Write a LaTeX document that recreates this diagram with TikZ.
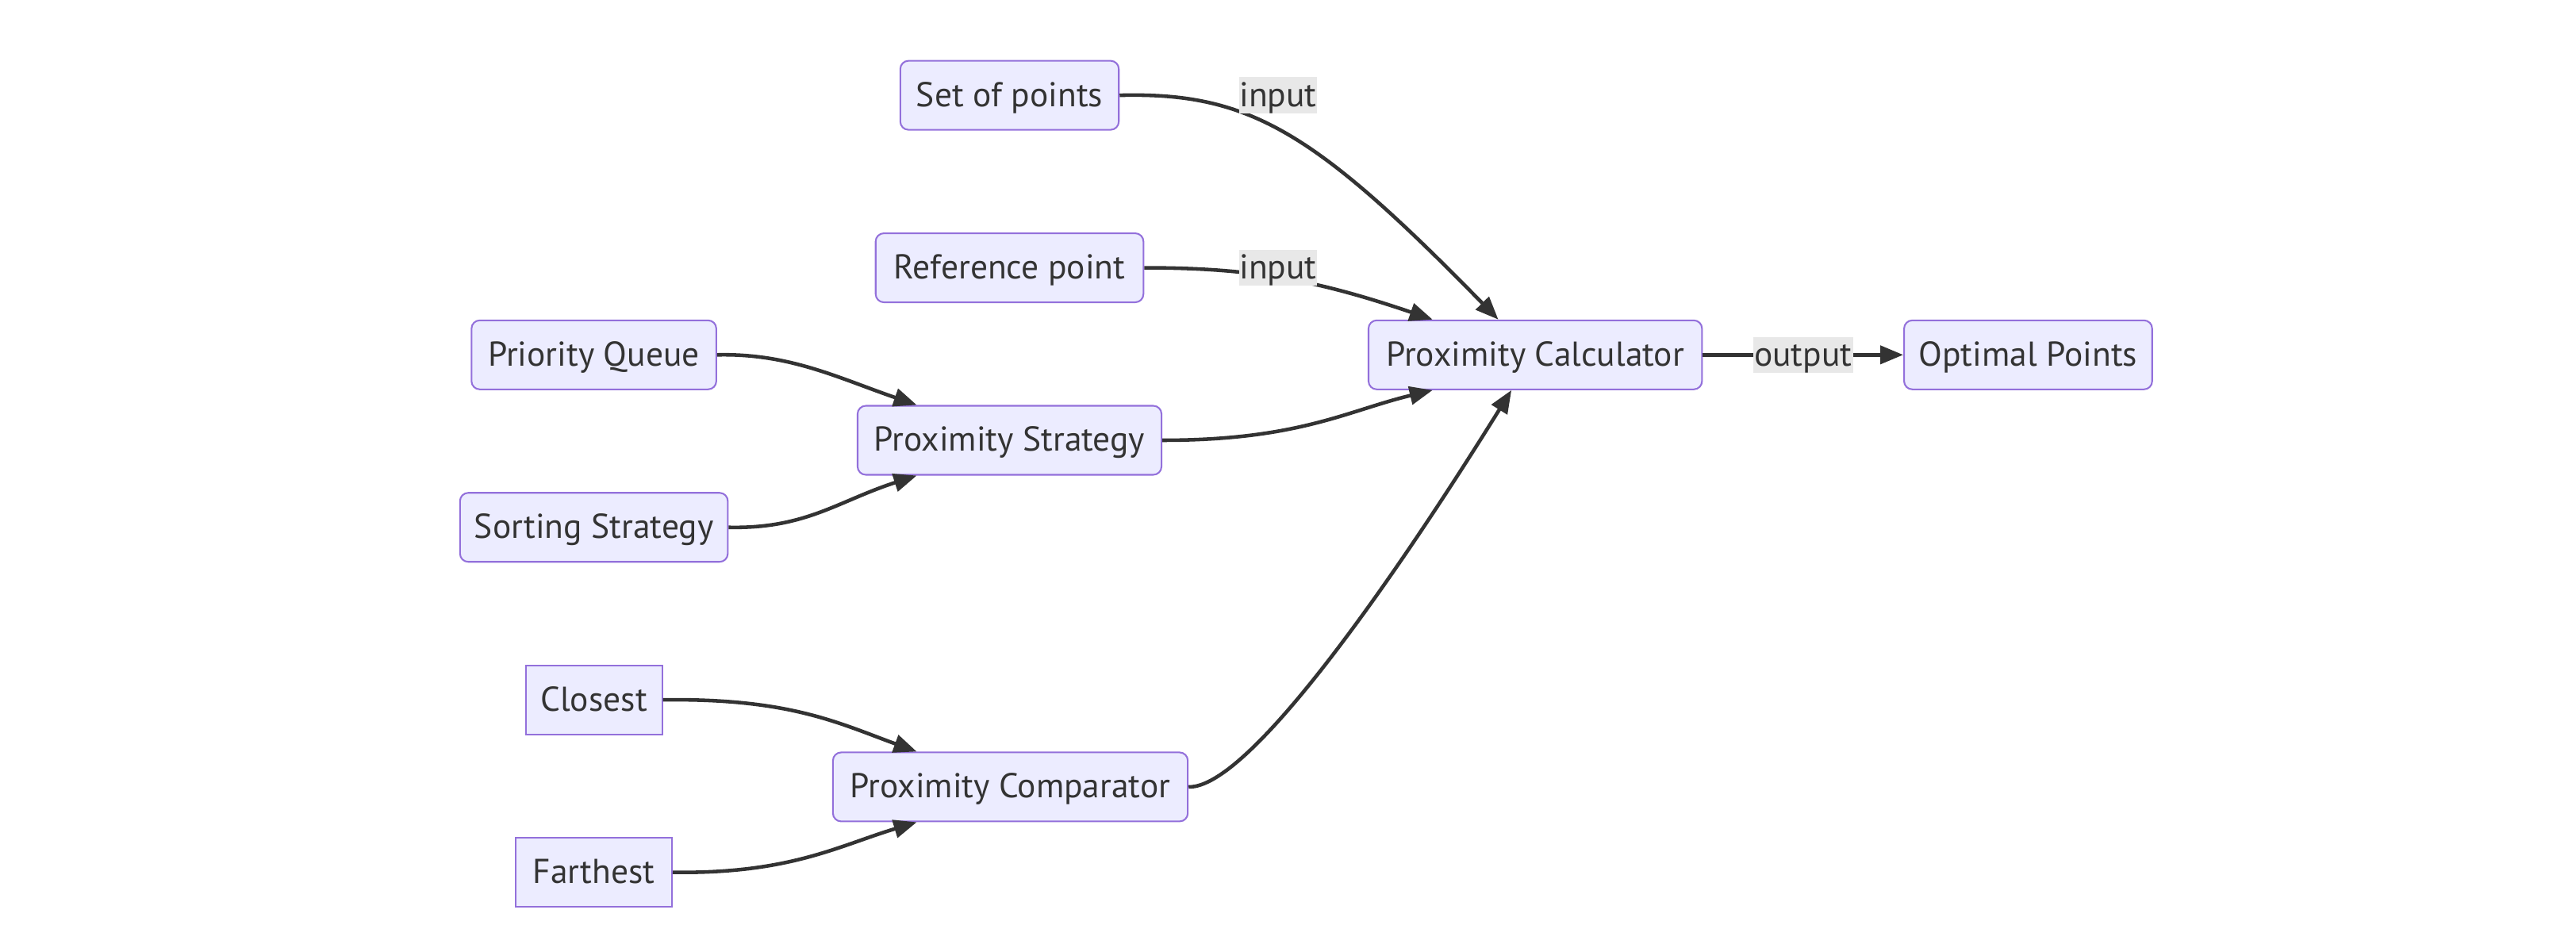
\documentclass[tikz,border=0pt]{standalone}
\usepackage{fontspec}
\setmainfont{PT Sans}
\usetikzlibrary{arrows.meta,calc}
\definecolor{nodefill}{HTML}{ECECFF}
\definecolor{nodeline}{HTML}{9370DB}
\definecolor{ink}{HTML}{333333}
\definecolor{lblbg}{HTML}{E8E8E8}
\tikzset{
  box/.style={draw=nodeline, fill=nodefill, line width=1pt, rounded corners=5pt,
    minimum height=42pt, inner xsep=0pt, text=ink, font=\fontsize{21}{24}\selectfont,
    text height=16.5pt, text depth=3pt},
  sqbox/.style={box, rounded corners=0pt},
  edge/.style={draw=ink, line width=2.2pt, -{Triangle[length=14pt,width=11pt]}},
  lbl/.style={fill=lblbg, text=ink, inner sep=0pt, minimum height=22pt, font=\fontsize{21}{24}\selectfont,
    text height=16.5pt, text depth=3pt}
}
\begin{document}
\begin{tikzpicture}[x=1pt,y=-1pt]
\useasboundingbox (0,0) rectangle (1568,576.6);
\node[box, minimum width=133pt] (sp) at (614.5,58) {Set of points};
\node[box, minimum width=163pt] (rp) at (614.5,163) {Reference point};
\node[box, minimum width=149pt] (pq) at (361.5,216) {Priority Queue};
\node[box, minimum width=185pt] (ps) at (614.5,268) {Proximity Strategy};
\node[box, minimum width=163pt] (ss) at (361.5,321) {Sorting Strategy};
\node[sqbox, minimum width=83pt] (cl) at (361.5,426) {Closest};
\node[box, minimum width=216pt] (pc) at (615,479) {Proximity Comparator};
\node[sqbox, minimum width=95pt] (fa) at (361.5,531) {Farthest};
\node[box, minimum width=203pt] (calc) at (934.5,216) {Proximity Calculator};
\node[box, minimum width=151pt] (op) at (1234.5,216) {Optimal Points};

\coordinate (t1) at ([xshift=-22.5pt]calc.north);
\coordinate (t2) at ([xshift=-62.5pt]calc.north);
\coordinate (t3) at ([xshift=-62.5pt]calc.south);
\coordinate (t4) at ([xshift=-14.5pt]calc.south);
\coordinate (s1) at ([xshift=-56.5pt]ps.north);
\coordinate (s2) at ([xshift=-56.5pt]ps.south);
\coordinate (c1) at ([xshift=-57pt]pc.north);
\coordinate (c2) at ([xshift=-57pt]pc.south);

\draw[edge] (sp.east) .. controls +(79,-2) and (800,80) .. (t1);
\draw[edge] (rp.east) .. controls +(64,0) and (800,170) .. (t2);
\draw[edge] (ps.east) .. controls +(83,0) and (820,250) .. (t3);
\draw[edge] (pc.east) .. controls +(37,1) and (850,350) .. (t4);
\draw[edge] (pq.east) .. controls +(44,-1) and (510,230) .. (s1);
\draw[edge] (ss.east) .. controls +(47,1) and (510,305) .. (s2);
\draw[edge] (cl.east) .. controls +(77,-1) and (510,440) .. (c1);
\draw[edge] (fa.east) .. controls +(71,1) and (510,515) .. (c2);
\draw[edge] (calc.east) -- (op.west);

\node[lbl, minimum width=47pt] (l1) at (778,58) {input};
\node[lbl, minimum width=47pt] (l2) at (778,163) {input};
\node[lbl, minimum width=61pt] (l3) at (1097.5,216) {output};
\end{tikzpicture}
\end{document}
